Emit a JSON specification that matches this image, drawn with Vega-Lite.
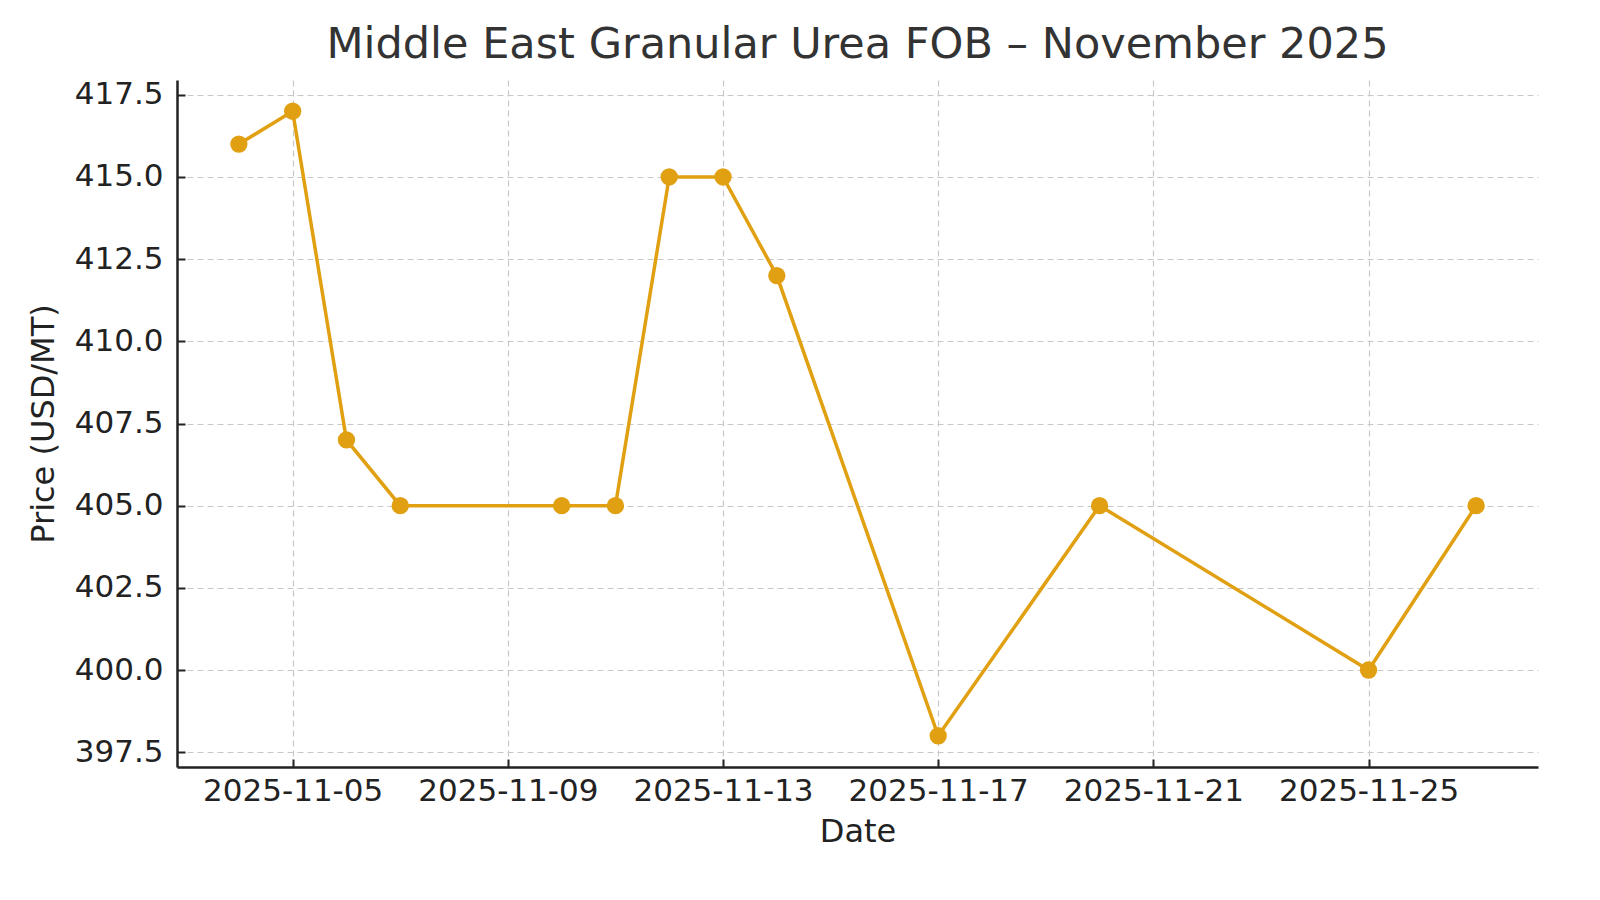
{
  "$schema": "https://vega.github.io/schema/vega-lite/v6.json",
  "autosize": {"type": "none"},
  "width": 1361,
  "height": 687,
  "padding": {"left": 177, "top": 80, "right": 62, "bottom": 133},
  "background": "white",
  "title": {
    "text": "Middle East Granular Urea FOB – November 2025",
    "font": "DejaVu Sans",
    "fontSize": 43,
    "fontWeight": "normal",
    "color": "#333333",
    "anchor": "middle",
    "offset": 12
  },
  "data": {
    "values": [
      {"date": "2025-11-04", "price": 416},
      {"date": "2025-11-05", "price": 417},
      {"date": "2025-11-06", "price": 407},
      {"date": "2025-11-07", "price": 405},
      {"date": "2025-11-10", "price": 405},
      {"date": "2025-11-11", "price": 405},
      {"date": "2025-11-12", "price": 415},
      {"date": "2025-11-13", "price": 415},
      {"date": "2025-11-14", "price": 412},
      {"date": "2025-11-17", "price": 398},
      {"date": "2025-11-20", "price": 405},
      {"date": "2025-11-25", "price": 400},
      {"date": "2025-11-27", "price": 405}
    ]
  },
  "config": {
    "view": {"stroke": null},
    "axis": {
      "labelFont": "DejaVu Sans",
      "labelFontSize": 31,
      "labelColor": "#222222",
      "labelLimit": 0,
      "titleFont": "DejaVu Sans",
      "titleFontSize": 32,
      "titleFontWeight": "normal",
      "titleColor": "#222222",
      "domainColor": "#222222",
      "domainWidth": 2.5,
      "tickColor": "#222222",
      "tickWidth": 2,
      "tickSize": -8,
      "gridColor": "#c8c8c8",
      "gridDash": [6, 4],
      "gridWidth": 1.2
    }
  },
  "mark": {
    "type": "line",
    "color": "#E1A012",
    "strokeWidth": 3.5,
    "point": {"filled": true, "size": 300, "color": "#E1A012", "opacity": 1}
  },
  "encoding": {
    "x": {
      "field": "date",
      "type": "temporal",
      "title": "Date",
      "scale": {
        "type": "utc",
        "domain": [
          {"year": 2025, "month": 11, "date": 2, "hours": 20, "minutes": 24, "utc": true},
          {"year": 2025, "month": 11, "date": 28, "hours": 3, "minutes": 36, "utc": true}
        ]
      },
      "axis": {
        "values": [
          {"year": 2025, "month": 11, "date": 5, "utc": true},
          {"year": 2025, "month": 11, "date": 9, "utc": true},
          {"year": 2025, "month": 11, "date": 13, "utc": true},
          {"year": 2025, "month": 11, "date": 17, "utc": true},
          {"year": 2025, "month": 11, "date": 21, "utc": true},
          {"year": 2025, "month": 11, "date": 25, "utc": true}
        ],
        "labelExpr": "utcFormat(datum.value, '%Y-%m-%d')",
        "labelAngle": 0,
        "labelPadding": 17,
        "titlePadding": 10
      }
    },
    "y": {
      "field": "price",
      "type": "quantitative",
      "title": "Price (USD/MT)",
      "scale": {"domain": [397.05, 417.95], "zero": false, "nice": false},
      "axis": {
        "values": [397.5, 400, 402.5, 405, 407.5, 410, 412.5, 415, 417.5],
        "format": ".1f",
        "labelPadding": 22,
        "titlePadding": 14
      }
    }
  }
}
